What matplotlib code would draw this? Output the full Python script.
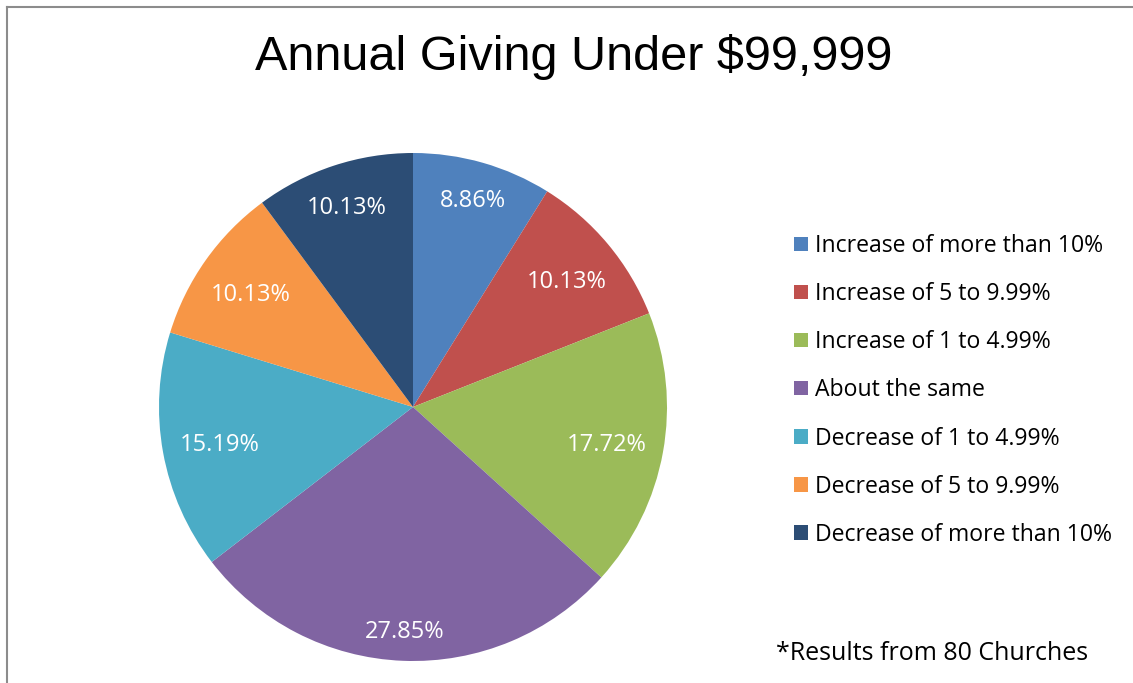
import matplotlib
matplotlib.use("Agg")
import numpy as np
import matplotlib.pyplot as plt
from matplotlib.patches import Patch
from matplotlib.lines import Line2D

categories = ["Increase of more than 10%", "Increase of 5 to 9.99%", "Increase of 1 to 4.99%",
              "About the same", "Decrease of 1 to 4.99%", "Decrease of 5 to 9.99%",
              "Decrease of more than 10%"]
values = [8.86, 10.13, 17.72, 27.85, 15.19, 10.13, 10.13]
colors = ["#4F81BD", "#C0504D", "#9BBB59", "#8064A2", "#4BACC6", "#F79646", "#2C4D75"]

W, H = 1133, 683
FONT = "Open Sans"
LABEL_SIZE = 17
fig = plt.figure(figsize=(W / 100, H / 100), dpi=100)
ax = fig.add_axes([0, 0, 1, 1])

cx, cy, r = 413, H - 407, 254
wedges, texts = ax.pie(values, colors=colors, startangle=90, counterclock=False,
                       center=(cx, cy), radius=r,
                       labels=[f"{v:.2f}%" for v in values], labeldistance=0.85,
                       textprops=dict(color="white", fontsize=LABEL_SIZE, family=FONT),
                       wedgeprops=dict(linewidth=0), frame=True)
ax.set_xlim(0, W)
ax.set_ylim(0, H)
ax.set_aspect("equal")
ax.axis("off")

# "inside end" label placement: box corner kept at a fixed fraction of the radius
fig.canvas.draw()
renderer = fig.canvas.get_renderer()
R_target = 0.935 * r
for w, t in zip(wedges, texts):
    t.set_ha("center")
    t.set_va("center_baseline")
    theta = np.deg2rad((w.theta1 + w.theta2) / 2)
    c, s = abs(np.cos(theta)), abs(np.sin(theta))
    bw = t.get_window_extent(renderer).width  # 1 data unit == 1 px
    bh = LABEL_SIZE * 100 / 72 * 0.85
    b = c * bw / 2 + s * bh / 2
    c0 = (bw / 2) ** 2 + (bh / 2) ** 2 - R_target ** 2
    rr = -b + np.sqrt(b * b - c0)
    t.set_position((cx + rr * np.cos(theta), cy + rr * np.sin(theta)))

# frame lines (left & top)
fig.add_artist(Line2D([7 / W, 7 / W], [0, 1 - 7 / H], color="#8C8C8C", lw=1.5))
fig.add_artist(Line2D([7 / W, 1], [1 - 7 / H, 1 - 7 / H], color="#8C8C8C", lw=1.5))

fig.text(574 / W, 1 - 57 / H, "Annual Giving Under $99,999", ha="center", va="center",
         fontsize=35, family="Liberation Sans", color="black")

handles = [Patch(facecolor=c, edgecolor="none", label=l) for c, l in zip(colors, categories)]
leg = fig.legend(handles=handles, loc="upper left", bbox_to_anchor=(778 / W, 1 - 218 / H),
                 frameon=False, handlelength=0.58, handleheight=0.58,
                 handletextpad=0.33, labelspacing=1.045, borderpad=0.2,
                 prop=dict(family=FONT, size=16.6))

fig.text(776 / W, 1 - 653 / H, "*Results from 80 Churches", ha="left", va="center",
         fontsize=18, family=FONT, color="black")

fig.savefig("out.png", dpi=100)
